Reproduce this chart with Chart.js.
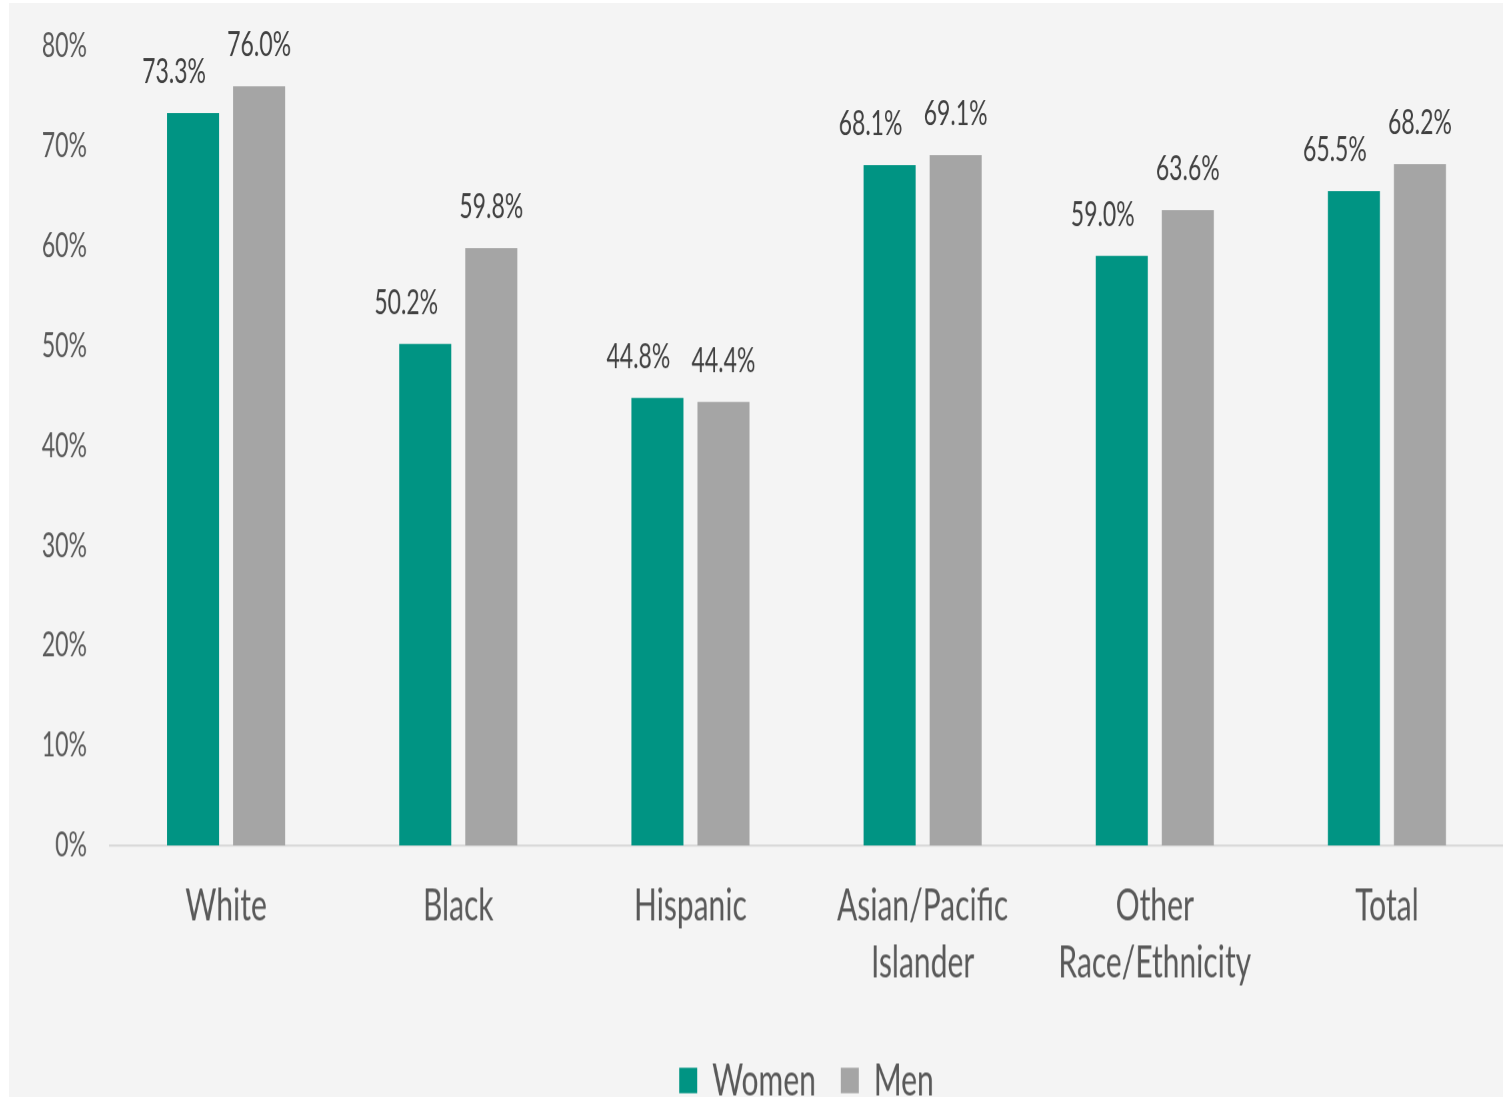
<!DOCTYPE html>
<html>
<head>
<meta charset="utf-8">
<script src="https://cdn.jsdelivr.net/npm/chart.js@4.4.1/dist/chart.umd.min.js"></script>
<style>
  html, body { margin: 0; padding: 0; background: #ffffff; overflow: hidden; }
  #panel {
    position: absolute; left: 9px; top: 3px;
    width: 1494px; height: 1094px;
    background: #f4f4f4; overflow: hidden;
  }
  /* the reference is stretched vertically, so the chart is drawn short and scaled up */
  #stretch {
    width: 1494px; height: 743px;
    transform: scaleY(1.5); transform-origin: 0 0;
  }
</style>
</head>
<body>
<div id="panel"><div id="stretch"><canvas id="chart" width="1494" height="743"></canvas></div></div>
<script>
// ── Data ─────────────────────────────────────────────────
const categories = ['White', 'Black', 'Hispanic', ['Asian/Pacific', 'Islander'], ['Other', 'Race/Ethnicity'], 'Total'];
const women = [73.3, 50.2, 44.8, 68.1, 59.0, 65.5];
const men   = [76.0, 59.8, 44.4, 69.1, 63.6, 68.2];
const yTicks = [0, 10, 20, 30, 40, 50, 60, 70, 80];

const COLORS = {
  women: '#009483',
  men:   '#a5a5a5',
  text:  '#595959',
  label: '#404040',
  axis:  '#d9d9d9',
};

Chart.defaults.font.family = "'Lato', 'Open Sans', sans-serif";
Chart.defaults.color = COLORS.text;

// ── Value labels above the bars ──────────────────────────
const barLabels = {
  id: 'barLabels',
  afterDatasetsDraw(chart) {
    const ctx = chart.ctx;
    ctx.save();
    ctx.font = "23px 'Lato', 'Open Sans', sans-serif";
    ctx.fillStyle = COLORS.label;
    ctx.textAlign = 'center';
    ctx.textBaseline = 'alphabetic';
    chart.data.datasets.forEach((ds, di) => {
      const meta = chart.getDatasetMeta(di);
      const shift = di === 0 ? -19 : 0;   // Excel nudged the women labels left
      meta.data.forEach((bar, i) => {
        ctx.fillText(ds.data[i].toFixed(1) + '%', bar.x + shift, bar.y - 20);
      });
    });
    ctx.restore();
  },
};

new Chart(document.getElementById('chart'), {
  type: 'bar',
  data: {
    labels: categories,
    datasets: [
      { label: 'Women', data: women, backgroundColor: COLORS.women },
      { label: 'Men',   data: men,   backgroundColor: COLORS.men },
    ],
  },
  options: {
    responsive: false,
    devicePixelRatio: 1.5,
    animation: false,
    categoryPercentage: 0.569,
    barPercentage: 0.788,
    layout: { padding: { top: 19, right: 0, bottom: 0, left: 0 } },
    plugins: {
      legend: {
        position: 'bottom',
        fullSize: false,
        labels: {
          boxWidth: 18, boxHeight: 17, padding: 25,
          color: COLORS.text,
          font: { size: 30 },
        },
      },
      tooltip: { enabled: false },
    },
    scales: {
      x: {
        grid: { display: false, drawTicks: false },
        border: { display: true, color: COLORS.axis, width: 1.5 },
        ticks: { color: COLORS.text, padding: 21, font: { size: 30, lineHeight: 1.27 }, maxRotation: 0 },
        afterFit: s => { s.height = 116.7; },
      },
      y: {
        min: 0, max: 80,
        grid: { display: false },
        border: { display: false },
        afterBuildTicks: s => { s.ticks = yTicks.map(v => ({ value: v })); },
        ticks: { color: COLORS.text, padding: 15, font: { size: 23 }, callback: v => v + '%' },
        afterFit: s => { s.width = 101; },
      },
    },
  },
  plugins: [barLabels],
});
</script>
</body>
</html>
